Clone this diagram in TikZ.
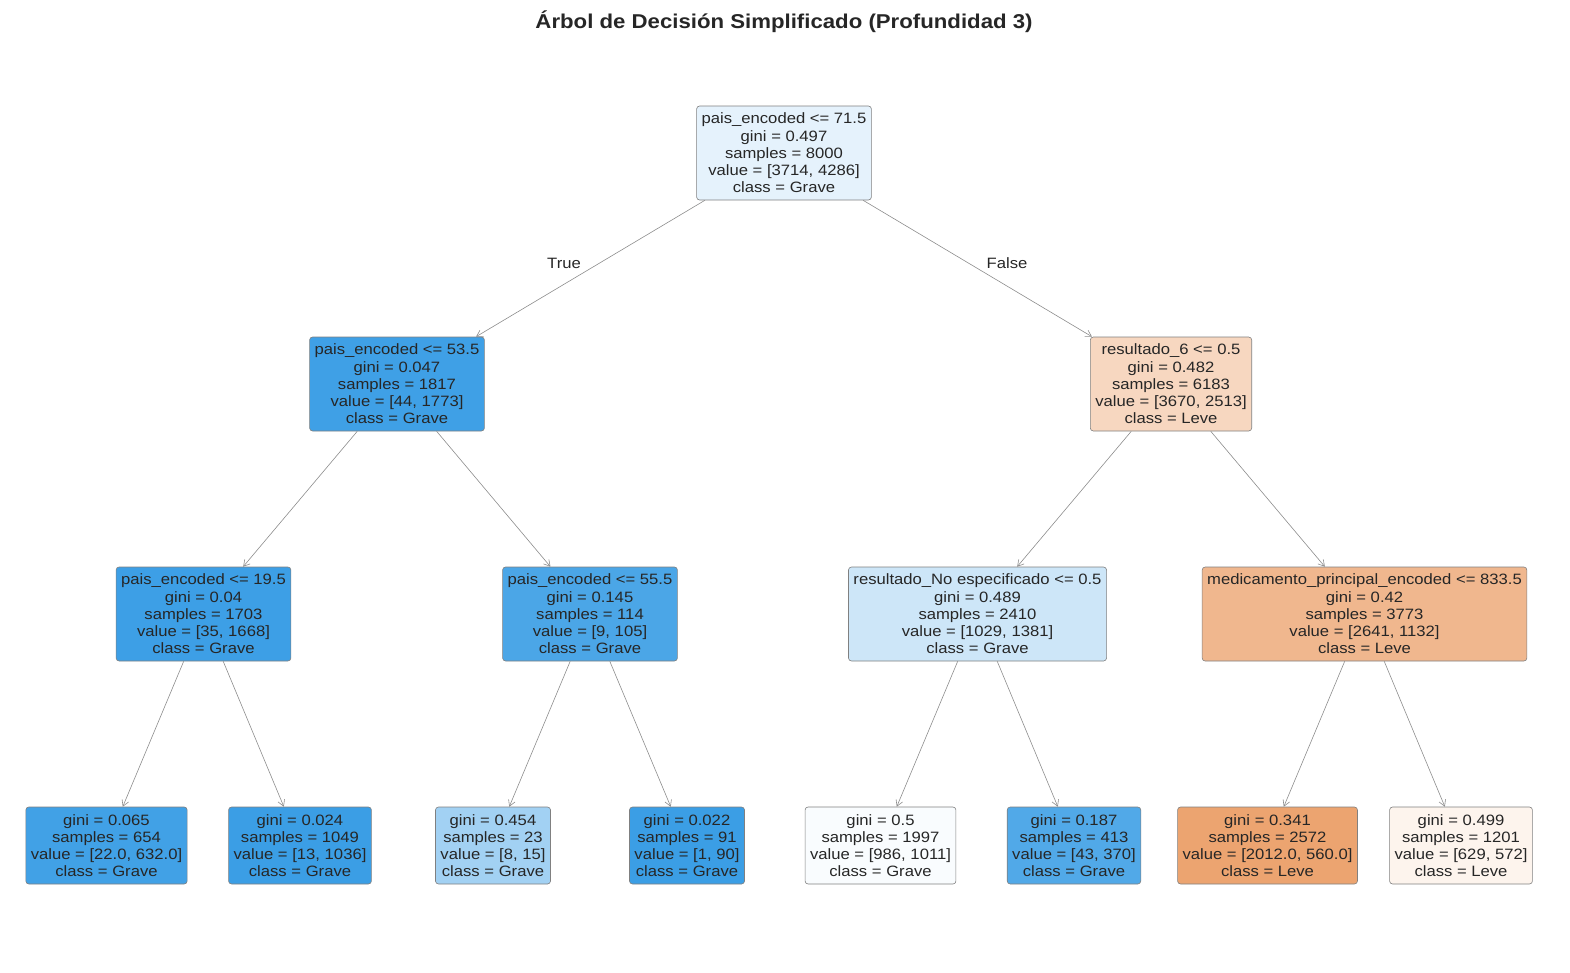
\documentclass[tikz,border=0pt]{standalone}
\usepackage{fontspec}
\setmainfont{Liberation Sans}
\newfontfamily\treefont[FakeStretch=1.11]{Liberation Sans}
\usetikzlibrary{arrows.meta}
\definecolor{grave}{RGB}{57,157,229}
\definecolor{leve}{RGB}{229,129,57}
\definecolor{txtgray}{RGB}{38,38,38}
\tikzset{
  box/.style={draw=black!50, line width=0.6pt, rounded corners=3pt, align=center,
    text=txtgray, inner xsep=5pt, inner ysep=0pt,
    font=\treefont\fontsize{15}{17.25}\selectfont},
  split/.style={box, minimum height=94pt},
  leaf/.style={box, minimum height=77pt},
  edge/.style={draw=black!45, line width=0.6pt, -{Straight Barb[length=6pt,width=7pt]}},
  branch/.style={text=txtgray, font=\treefont\fontsize{15}{17.25}\selectfont}
}
\begin{document}
\begin{tikzpicture}[x=1pt,y=-1pt]
\useasboundingbox (0,0) rectangle (1570,972);
\node[text=txtgray, font=\treefont\bfseries\fontsize{20}{22}\selectfont] (title) at (784,22)
  {Árbol de Decisión Simplificado (Profundidad 3)};
% depth 0
\node[split, fill=grave!13!white] (n0) at (784,153)
  {pais\_encoded <= 71.5\\gini = 0.497\\samples = 8000\\value = [3714, 4286]\\class = Grave};
% depth 1
\node[split, fill=grave!97!white] (n1) at (397,384)
  {pais\_encoded <= 53.5\\gini = 0.047\\samples = 1817\\value = [44, 1773]\\class = Grave};
\node[split, fill=leve!32!white] (n2) at (1171,384)
  {resultado\_6 <= 0.5\\gini = 0.482\\samples = 6183\\value = [3670, 2513]\\class = Leve};
% depth 2
\node[split, fill=grave!98!white] (n11) at (203.5,614)
  {pais\_encoded <= 19.5\\gini = 0.04\\samples = 1703\\value = [35, 1668]\\class = Grave};
\node[split, fill=grave!91!white] (n12) at (590,614)
  {pais\_encoded <= 55.5\\gini = 0.145\\samples = 114\\value = [9, 105]\\class = Grave};
\node[split, fill=grave!25!white] (n21) at (977.5,614)
  {resultado\_No especificado <= 0.5\\gini = 0.489\\samples = 2410\\value = [1029, 1381]\\class = Grave};
\node[split, fill=leve!57!white] (n22) at (1364.5,614)
  {medicamento\_principal\_encoded <= 833.5\\gini = 0.42\\samples = 3773\\value = [2641, 1132]\\class = Leve};
% leaves
\node[leaf, fill=grave!96!white] (l1) at (106.5,845.5)
  {gini = 0.065\\samples = 654\\value = [22.0, 632.0]\\class = Grave};
\node[leaf, fill=grave!99!white] (l2) at (300,845.5)
  {gini = 0.024\\samples = 1049\\value = [13, 1036]\\class = Grave};
\node[leaf, fill=grave!47!white] (l3) at (493,845.5)
  {gini = 0.454\\samples = 23\\value = [8, 15]\\class = Grave};
\node[leaf, fill=grave!99!white] (l4) at (687,845.5)
  {gini = 0.022\\samples = 91\\value = [1, 90]\\class = Grave};
\node[leaf, fill=grave!3!white] (l5) at (880.5,845.5)
  {gini = 0.5\\samples = 1997\\value = [986, 1011]\\class = Grave};
\node[leaf, fill=grave!88!white] (l6) at (1074,845.5)
  {gini = 0.187\\samples = 413\\value = [43, 370]\\class = Grave};
\node[leaf, fill=leve!72!white] (l7) at (1267.5,845.5)
  {gini = 0.341\\samples = 2572\\value = [2012.0, 560.0]\\class = Leve};
\node[leaf, fill=leve!9!white] (l8) at (1461,845.5)
  {gini = 0.499\\samples = 1201\\value = [629, 572]\\class = Leve};
% connectors
\foreach \a/\b in {n0/n1, n0/n2, n1/n11, n1/n12, n2/n21, n2/n22,
                   n11/l1, n11/l2, n12/l3, n12/l4, n21/l5, n21/l6, n22/l7, n22/l8}
  \draw[edge] (\a) -- (\b);
\node[branch] (true) at (564,263) {True};
\node[branch] (false) at (1007,263) {False};
\end{tikzpicture}
\end{document}
